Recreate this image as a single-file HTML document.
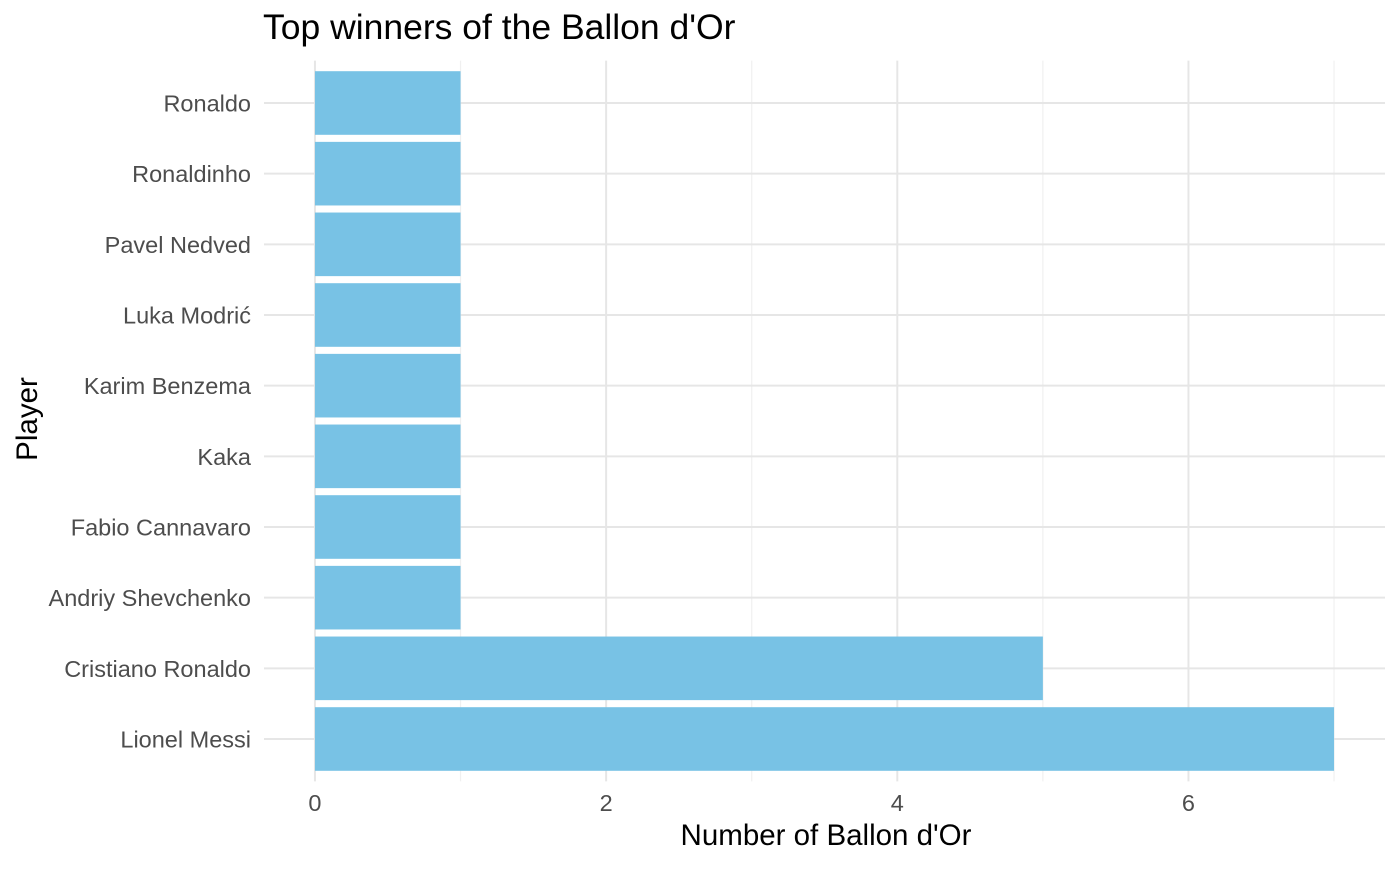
<!DOCTYPE html>
<html><head><meta charset="utf-8"><style>
body{margin:0;background:#fff;}
svg text{font-family:"Liberation Sans","DejaVu Sans",sans-serif;}
</style></head><body>
<svg id="chart" width="1400" height="865" xmlns="http://www.w3.org/2000/svg">
<text x="263" y="39" font-size="35.5" fill="#000">Top winners of the Ballon d'Or</text>
<g id="grid"></g><g id="bars"></g><g id="labels"></g>
<text x="826" y="845" font-size="29.5" text-anchor="middle" fill="#000">Number of Ballon d'Or</text>
<text transform="translate(37,419) rotate(-90)" font-size="29.5" text-anchor="middle" fill="#000">Player</text>
</svg>
<script>
const categories=["Lionel Messi","Cristiano Ronaldo","Andriy Shevchenko","Fabio Cannavaro","Kaka","Karim Benzema","Luka Modrić","Pavel Nedved","Ronaldinho","Ronaldo"];
const values=[7,5,1,1,1,1,1,1,1,1];
const xTicks=[0,2,4,6];
const xMinor=[1,3,5,7];
const NS="http://www.w3.org/2000/svg";
const pLeft=264,pRight=1385,pTop=60.6,pBottom=781.4;
const xMin=-0.35,xMax=7.35;
function xs(v){return pLeft+(v-xMin)/(xMax-xMin)*(pRight-pLeft);}
const step=(pBottom-pTop)/(categories.length+0.2);
function ys(i){return pBottom-(0.6+i)*step;}
function mk(tag,attrs,parent){const e=document.createElementNS(NS,tag);for(const k in attrs)e.setAttribute(k,attrs[k]);document.getElementById(parent).appendChild(e);return e;}
xMinor.forEach(v=>{const l=mk('line',{x1:xs(v),x2:xs(v),y1:pTop,y2:pBottom,stroke:'#f0f0f0','stroke-width':1.2},'grid');

});
xTicks.forEach(v=>{const l=mk('line',{x1:xs(v),x2:xs(v),y1:pTop,y2:pBottom,stroke:'#e6e6e6','stroke-width':2},'grid');


const t=mk('text',{x:xs(v),y:811,'font-size':23.5,'text-anchor':'middle',fill:'#4d4d4d'},'labels');t.textContent=v;

});
categories.forEach((c,i)=>{const y=ys(i);
const l=mk('line',{x1:pLeft,x2:pRight,y1:y,y2:y,stroke:'#e6e6e6','stroke-width':2},'grid');


const h=step*0.9;
const r=mk('rect',{x:xs(0),y:y-h/2,width:xs(values[i])-xs(0),height:h,fill:'#78c2e5'},'bars');


const t=mk('text',{x:251,y:y+8.5,'font-size':23.5,'text-anchor':'end',fill:'#4d4d4d'},'labels');t.textContent=c;

});
</script>
</body></html>
